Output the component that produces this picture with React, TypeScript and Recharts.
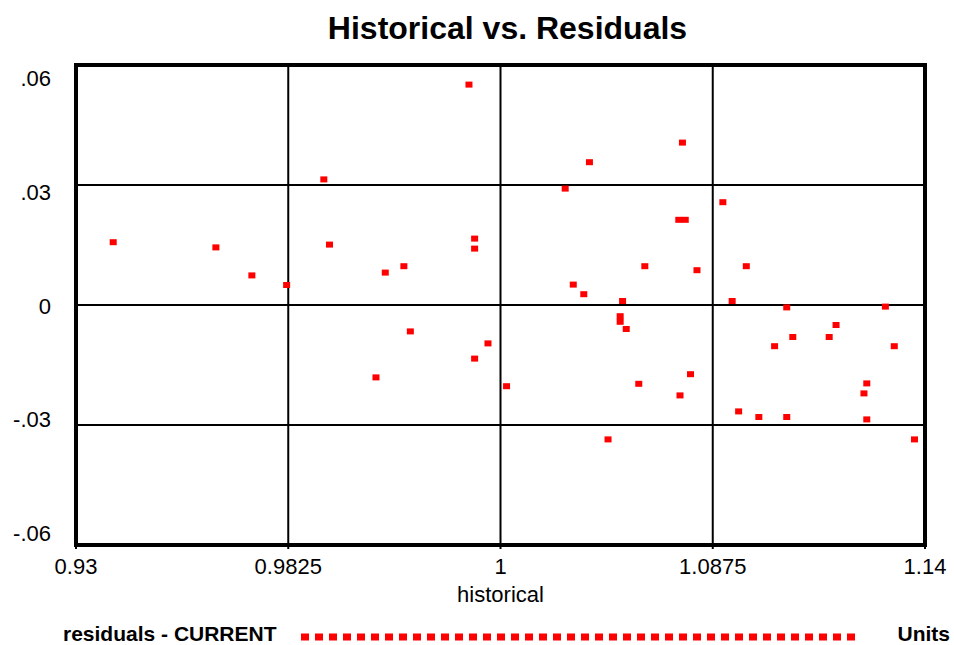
import React from 'react';
import { ScatterChart, Scatter, XAxis, YAxis, CartesianGrid, ReferenceArea } from 'recharts';

const historical = [
  0.9392, 0.9646, 0.9735, 0.9821, 0.9913, 0.9927, 1.0065, 1.0111, 1.0127, 1.0042,
  1.0272, 1.0286, 1.0286, 1.0286, 1.0319, 1.0365, 1.051, 1.057, 1.053, 1.0556,
  1.0652, 1.0646, 1.0646, 1.0661, 1.0707, 1.0692, 1.0616, 1.08, 1.0791, 1.0807,
  1.0836, 1.082, 1.0794, 1.09, 1.0923, 1.0958, 1.0939, 1.0989, 1.1028, 1.1058,
  1.1058, 1.1073, 1.1163, 1.118, 1.1249, 1.1256, 1.1256, 1.1302, 1.1324, 1.1374,
];
const residuals = [
  0.0157, 0.0144, 0.0074, 0.005, 0.0314, 0.0151, 0.0081, 0.0097, -0.0066, -0.0181,
  0.0551, 0.0166, 0.0141, -0.0134, -0.0096, -0.0203, 0.0291, 0.0357, 0.0051, 0.0027,
  0.001, -0.0028, -0.0042, -0.006, 0.0097, -0.0197, -0.0336, 0.0406, 0.0213, 0.0213,
  0.0087, -0.0173, -0.0226, 0.0257, 0.001, 0.0097, -0.0266, -0.028, -0.0103, -0.0006,
  -0.028, -0.008, -0.008, -0.005, -0.0221, -0.0196, -0.0286, -0.0004, -0.0103, -0.0336,
];
const xTicks = [0.93, 0.9825, 1.035, 1.0875, 1.14];
const xTickLabels = ['0.93', '0.9825', '1', '1.0875', '1.14'];
const yTicks = [-0.06, -0.03, 0, 0.03, 0.06];
const yTickLabels = ['-.06', '-.03', '0', '.03', '.06'];

const title = 'Historical vs. Residuals';
const xAxisTitle = 'historical';
const seriesName = 'residuals - CURRENT';
const unitsLabel = 'Units';

const data = historical.map((h, i) => ({ historical: h, residuals: residuals[i] }));

const FONT = '"Liberation Sans", Arial, sans-serif';
const Y_MID = 305.5;
const LABEL_SPREAD = 0.9467;
const PLOT_BOTTOM = 545;
const PLOT_LEFT = 76;

const nearestIndex = (arr: number[], v: number) => {
  let best = 0;
  arr.forEach((t, i) => {
    if (Math.abs(t - v) < Math.abs(arr[best] - v)) best = i;
  });
  return best;
};

const XTick = (props: any) => {
  const { x, payload } = props;
  const i = nearestIndex(xTicks, payload.value);
  return (
    <text x={x} y={PLOT_BOTTOM + 29} textAnchor="middle" fontFamily={FONT} fontSize={22} fill="#000">
      {xTickLabels[i]}
    </text>
  );
};

const YTick = (props: any) => {
  const { y, payload } = props;
  const i = nearestIndex(yTicks, payload.value);
  const baseline = Y_MID + 8.5 + (y - Y_MID) * LABEL_SPREAD;
  return (
    <text x={PLOT_LEFT - 25} y={baseline} textAnchor="end" fontFamily={FONT} fontSize={22} fill="#000">
      {yTickLabels[i]}
    </text>
  );
};

const Marker = (props: any) => {
  const { cx, cy } = props;
  if (cx == null || cy == null) return null;
  return <rect x={cx - 3.5} y={cy - 3} width={7} height={6} fill="#ff0000" />;
};

export default function App() {
  return (
    <div style={{ position: 'absolute', left: 0, top: 0, background: '#fff' }}>
      <ScatterChart
        width={954}
        height={645}
        margin={{ top: 65, right: 25, bottom: 70, left: 46 }}
      >
        <CartesianGrid stroke="#000" strokeWidth={2} fill="#fff" />
        <XAxis
          type="number"
          dataKey="historical"
          domain={[0.93, 1.14]}
          ticks={xTicks}
          allowDataOverflow
          height={30}
          axisLine={false}
          tickLine={{ stroke: '#000', strokeWidth: 2 }}
          tickSize={4}
          tickMargin={0}
          tick={<XTick />}
          interval={0}
        />
        <YAxis
          type="number"
          dataKey="residuals"
          domain={[-0.06, 0.06]}
          ticks={yTicks}
          allowDataOverflow
          width={30}
          axisLine={false}
          tickLine={false}
          tickSize={0}
          tickMargin={0}
          tick={<YTick />}
          interval={0}
        />
        <YAxis
          yAxisId="right"
          orientation="right"
          type="number"
          domain={[-0.06, 0.06]}
          ticks={yTicks}
          width={4}
          axisLine={false}
          tickLine={{ stroke: '#000', strokeWidth: 2 }}
          tickSize={4}
          tick={false}
          interval={0}
        />
        <Scatter
          data={data}
          fill="#ff0000"
          shape={<Marker />}
          isAnimationActive={false}
        />
        <ReferenceArea
          x1={0.93}
          x2={1.14}
          y1={-0.06}
          y2={0.06}
          fill="none"
          stroke="#000"
          strokeWidth={4}
          ifOverflow="visible"
        />
        <text x={507.5} y={39} textAnchor="middle" fontFamily={FONT} fontSize={32} fontWeight="bold" fill="#000">
          {title}
        </text>
        <text x={500.5} y={601.5} textAnchor="middle" fontFamily={FONT} fontSize={22} fill="#000">
          {xAxisTitle}
        </text>
        <text x={63} y={641} fontFamily={FONT} fontSize={21} fontWeight="bold" fill="#000">
          {seriesName}
        </text>
        <line x1={301} y1={637} x2={855} y2={637} stroke="#ff0000" strokeWidth={7} strokeDasharray="8 6" />
        <text x={950} y={641} textAnchor="end" fontFamily={FONT} fontSize={21} fontWeight="bold" fill="#000">
          {unitsLabel}
        </text>
      </ScatterChart>
    </div>
  );
}
